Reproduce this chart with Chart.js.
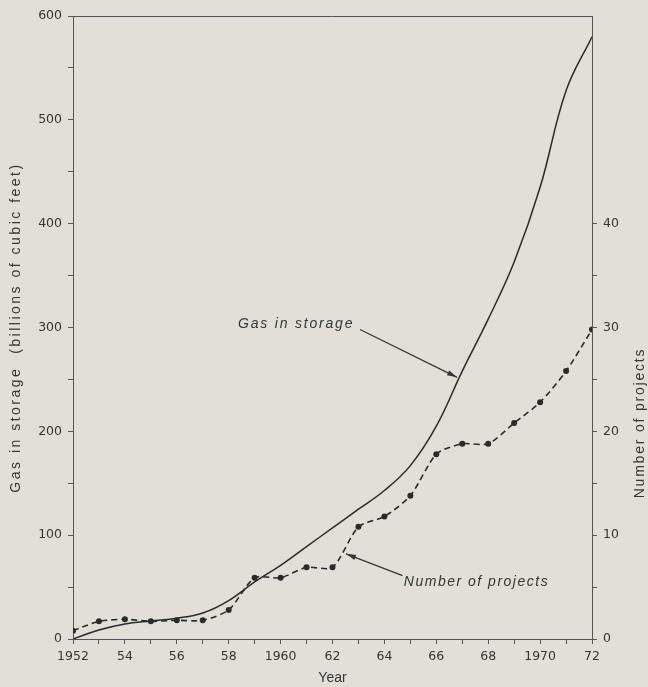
<!DOCTYPE html>
<html>
<head>
<meta charset="utf-8">
<style>
html,body{margin:0;padding:0;background:#e0e0d8;}
canvas{display:block;}
</style>
<script src="https://cdn.jsdelivr.net/npm/chart.js@4.4.1/dist/chart.umd.min.js"></script>
</head>
<body>
<canvas id="c" width="648" height="687"></canvas>
<script>
// ---- data ----
const years = [1952,1953,1954,1955,1956,1957,1958,1959,1960,1961,1962,1963,1964,1965,1966,1967,1968,1969,1970,1971,1972];
const gasInStorage = [0, 8.7, 14.5, 17.4, 20, 25, 37, 55, 71, 89, 107, 125, 143, 167, 205, 258, 308, 363, 435, 528, 580];
const numberOfProjects = [0.8, 1.7, 1.9, 1.7, 1.8, 1.8, 2.8, 5.9, 5.9, 6.9, 6.9, 10.8, 11.8, 13.8, 17.8, 18.8, 18.8, 20.8, 22.8, 25.8, 29.8];
const leftTickLabels = [0, 100, 200, 300, 400, 500, 600];
const rightTickLabels = [0, 10, 20, 30, 40];
const xTickLabels = {1952:'1952',1954:'54',1956:'56',1958:'58',1960:'1960',1962:'62',1964:'64',1966:'66',1968:'68',1970:'1970',1972:'72'};
const leftTitle = 'Gas in storage  (billions of cubic feet)';
const rightTitle = 'Number of projects';
const xTitle = 'Year';
const gasLabel = 'Gas in storage';
const projLabel = 'Number of projects';

const INK = '#353535';
const AXIS = '#555555';
const BG = '#e0e0d8';

const decor = {
  id: 'decor',
  beforeDraw(chart) {
    const ctx = chart.ctx;
    ctx.save();
    ctx.fillStyle = BG;
    ctx.fillRect(0, 0, chart.width, chart.height);
    ctx.restore();
  },
  afterDraw(chart) {
    const ctx = chart.ctx;
    const a = chart.chartArea;
    const xs = chart.scales.x, ys = chart.scales.y, y2 = chart.scales.y2;
    ctx.save();
    // top frame line
    ctx.strokeStyle = AXIS; ctx.lineWidth = 1;
    ctx.beginPath(); ctx.moveTo(a.left, Math.round(a.top) + 0.5); ctx.lineTo(a.right, Math.round(a.top) + 0.5); ctx.stroke();

    ctx.fillStyle = INK;
    // left axis title
    ctx.save();
    ctx.font = '14px "Liberation Sans"';
    ctx.letterSpacing = '2.5px';
    ctx.textAlign = 'center'; ctx.textBaseline = 'middle';
    ctx.translate(16, (a.top + a.bottom) / 2);
    ctx.rotate(-Math.PI / 2);
    ctx.fillText(leftTitle, 0, 0);
    ctx.restore();
    // right axis title
    ctx.save();
    ctx.font = '14px "Liberation Sans"';
    ctx.letterSpacing = '1.8px';
    ctx.textAlign = 'center'; ctx.textBaseline = 'middle';
    ctx.translate(640, y2.getPixelForValue(20.8));
    ctx.rotate(-Math.PI / 2);
    ctx.fillText(rightTitle, 0, 0);
    ctx.restore();

    // annotations
    function arrow(x1, y1, x2, y2p) {
      ctx.strokeStyle = INK; ctx.lineWidth = 1.2;
      ctx.beginPath(); ctx.moveTo(x1, y1); ctx.lineTo(x2, y2p); ctx.stroke();
      const ang = Math.atan2(y2p - y1, x2 - x1);
      const L = 10, W = 2.6;
      ctx.beginPath();
      ctx.moveTo(x2, y2p);
      ctx.lineTo(x2 - L * Math.cos(ang) + W * Math.sin(ang), y2p - L * Math.sin(ang) - W * Math.cos(ang));
      ctx.lineTo(x2 - L * Math.cos(ang) - W * Math.sin(ang), y2p - L * Math.sin(ang) + W * Math.cos(ang));
      ctx.closePath(); ctx.fill();
    }
    ctx.font = 'italic 14px "Liberation Sans"';
    ctx.letterSpacing = '1.8px';
    ctx.textAlign = 'left'; ctx.textBaseline = 'middle';
    ctx.fillText(gasLabel, xs.getPixelForValue(1958.36), ys.getPixelForValue(303));
    arrow(xs.getPixelForValue(1963.06), ys.getPixelForValue(298), xs.getPixelForValue(1966.8), ys.getPixelForValue(252));
    ctx.letterSpacing = '1.5px';
    ctx.fillText(projLabel, xs.getPixelForValue(1964.75), y2.getPixelForValue(5.5));
    arrow(xs.getPixelForValue(1964.7), y2.getPixelForValue(6.1), xs.getPixelForValue(1962.52), y2.getPixelForValue(8.2));
    ctx.restore();
  }
};

const tickFont = { family: '"DejaVu Sans"', size: 12.5 };

new Chart(document.getElementById('c'), {
  type: 'line',
  data: {
    datasets: [
      {
        label: 'Gas in storage',
        data: years.map((y, i) => ({ x: y, y: gasInStorage[i] })),
        yAxisID: 'y',
        borderColor: '#2a2a2a',
        borderWidth: 1.5,
        pointRadius: 0,
        tension: 0.4,
        fill: false
      },
      {
        label: 'Number of projects',
        data: years.map((y, i) => ({ x: y, y: numberOfProjects[i] })),
        yAxisID: 'y2',
        borderColor: '#2a2a2a',
        borderWidth: 1.6,
        borderDash: [6, 4],
        pointRadius: 3,
        pointBackgroundColor: '#2a2a2a',
        pointBorderWidth: 0,
        tension: 0.25,
        fill: false
      }
    ]
  },
  options: {
    responsive: false,
    devicePixelRatio: 1,
    animation: false,
    layout: { padding: { top: 16, left: 0, right: 0, bottom: 0 } },
    plugins: { legend: { display: false }, tooltip: { enabled: false } },
    scales: {
      x: {
        type: 'linear',
        min: 1952, max: 1972,
        afterFit(s) { s.height = 48; },
        ticks: {
          stepSize: 1, autoSkip: false, maxRotation: 0, padding: 5,
          color: INK, font: tickFont,
          callback: v => (xTickLabels[v] !== undefined ? xTickLabels[v] : '')
        },
        grid: { drawOnChartArea: false, drawTicks: true, tickLength: 5, color: AXIS },
        border: { display: true, color: AXIS, width: 1 },
        title: { display: true, text: xTitle, color: INK, font: { family: '"Liberation Sans"', size: 14 }, padding: { top: 0, bottom: 0 } }
      },
      y: {
        position: 'left',
        min: 0, max: 600,
        afterFit(s) { s.width = 73; },
        ticks: {
          stepSize: 50, padding: 6, color: INK, font: tickFont,
          callback: v => (leftTickLabels.includes(v) ? String(v) : '')
        },
        grid: { drawOnChartArea: false, drawTicks: true, tickLength: 5, color: AXIS },
        border: { display: true, color: AXIS, width: 1 }
      },
      y2: {
        position: 'right',
        min: 0, max: 60,
        afterFit(s) { s.width = 56; },
        ticks: {
          stepSize: 5, padding: 6, color: INK, font: tickFont,
          callback: v => (rightTickLabels.includes(v) ? String(v) : '')
        },
        grid: {
          drawOnChartArea: false, drawTicks: true, tickLength: 5,
          color: c => (c.tick && c.tick.value > 40 ? 'rgba(0,0,0,0)' : AXIS)
        },
        border: { display: true, color: AXIS, width: 1 }
      }
    }
  },
  plugins: [decor]
});
</script>
</body>
</html>
